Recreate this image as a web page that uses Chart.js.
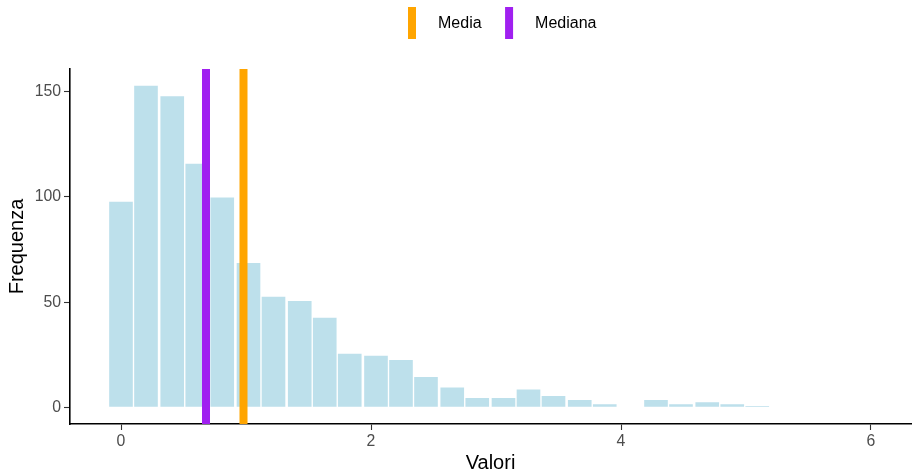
<!DOCTYPE html>
<html>
<head>
<meta charset="utf-8">
<script src="https://cdn.jsdelivr.net/npm/chart.js@4"></script>
<style>
  html, body { margin: 0; padding: 0; background: #ffffff; }
  #wrap { width: 912px; height: 472px; }
</style>
</head>
<body>
<div id="wrap"><canvas id="c" width="912" height="472"></canvas></div>
<script>
// Histogram bin centres (30 bins) and counts
const binCenters = [0.00, 0.20, 0.41, 0.61, 0.81, 1.02, 1.22, 1.43, 1.63, 1.83,
                    2.04, 2.24, 2.44, 2.65, 2.85, 3.06, 3.26, 3.46, 3.67, 3.87,
                    4.07, 4.28, 4.48, 4.69, 4.89, 5.09, 5.30, 5.50, 5.70, 5.91];
const counts = [98, 153, 148, 116, 100, 69, 53, 51, 43, 26,
                25, 23, 15, 10, 5, 5, 9, 6, 4, 2,
                0, 4, 2, 3, 2, 1, 0, 0, 0, 0];
// Reference lines
const refLabels = ["Media", "Mediana"];
const refValues = [0.98, 0.68];
const refColors = ["#FFA500", "#A020F0"];
// Axis ticks and ranges
const xTicks = [0, 2, 4, 6];
const yTicks = [0, 50, 100, 150];
const xRange = [-0.408, 6.32];
const yRange = [-7.65, 160.65];

const FONT = "'Liberation Sans', Arial, sans-serif";

const barData = binCenters.map((x, i) => ({ x: x, y: counts[i] }));

const lineDatasets = refValues.map((v, i) => ({
  type: 'line',
  label: refLabels[i],
  data: [{ x: v, y: yRange[0] }, { x: v, y: yRange[1] }],
  borderColor: refColors[i],
  backgroundColor: refColors[i],
  borderWidth: 8,
  borderCapStyle: 'butt',
  pointRadius: 0,
  pointHoverRadius: 0,
  fill: false,
  order: 1 + i
}));

const ggLegend = {
  id: 'ggLegend',
  afterDraw(chart) {
    const ctx = chart.ctx;
    ctx.save();
    ctx.font = "16px " + FONT;
    ctx.textBaseline = 'middle';
    ctx.textAlign = 'left';
    let x = 408;
    const yTop = 7, h = 32, yMid = 24;
    refLabels.forEach((lab, i) => {
      ctx.fillStyle = refColors[i];
      ctx.fillRect(x, yTop, 8, h);
      x += 8 + 22;
      ctx.fillStyle = '#000000';
      ctx.fillText(lab, x, yMid);
      x += ctx.measureText(lab).width + 23.5;
    });
    ctx.restore();
  }
};

new Chart(document.getElementById('c'), {
  data: {
    datasets: [
      {
        type: 'bar',
        label: 'Frequenza',
        data: barData,
        backgroundColor: 'rgba(173,216,230,0.8)',
        borderColor: '#ffffff',
        borderWidth: 1,
        borderSkipped: false,
        barPercentage: 1.0,
        categoryPercentage: 1.0,
        order: 5
      },
      ...lineDatasets
    ]
  },
  options: {
    responsive: false,
    devicePixelRatio: 1,
    animation: false,
    layout: { padding: { top: 69, right: 1, bottom: 0, left: 0 } },
    plugins: {
      legend: { display: false },
      tooltip: { enabled: false }
    },
    scales: {
      x: {
        type: 'linear',
        min: xRange[0],
        max: xRange[1],
        offset: false,
        afterBuildTicks: (s) => { s.ticks = xTicks.map(v => ({ value: v })); },
        afterFit: (s) => { s.height = 48; },
        grid: { display: true, offset: false, drawOnChartArea: false, tickLength: 6, tickColor: '#333333', tickWidth: 1.1 },
        border: { display: true, color: '#000000', width: 1.6 },
        ticks: { color: '#4D4D4D', font: { family: FONT, size: 15.8 }, padding: 2, maxRotation: 0, autoSkip: false },
        title: { display: true, text: 'Valori', color: '#000000', font: { family: FONT, size: 20, lineHeight: 0.9 }, padding: { top: 0, bottom: 0 } }
      },
      y: {
        type: 'linear',
        min: yRange[0],
        max: yRange[1],
        afterBuildTicks: (s) => { s.ticks = yTicks.map(v => ({ value: v })); },
        afterFit: (s) => { s.width = 70; },
        grid: { display: true, offset: false, drawOnChartArea: false, tickLength: 6, tickColor: '#333333', tickWidth: 1.1 },
        border: { display: true, color: '#000000', width: 1.6 },
        ticks: { color: '#4D4D4D', font: { family: FONT, size: 15.8 }, padding: 3, autoSkip: false },
        title: { display: true, text: 'Frequenza', color: '#000000', font: { family: FONT, size: 20, lineHeight: 0.9 }, padding: { top: 8, bottom: 0 } }
      }
    }
  },
  plugins: [ggLegend]
});
</script>
</body>
</html>
